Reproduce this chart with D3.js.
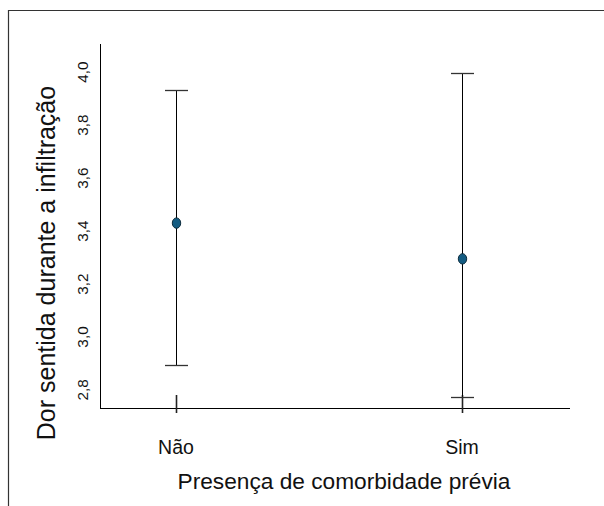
<!DOCTYPE html>
<html>
<head>
<meta charset="utf-8">
<script src="https://cdn.jsdelivr.net/npm/d3@7"></script>
<style>
  body { margin: 0; background: #fff; }
  text { font-family: "Liberation Sans", Arial, sans-serif; fill: #111; }
</style>
</head>
<body>
<svg id="chart" width="604" height="506"></svg>
<script>
// data
var categories = ["Não", "Sim"];
var means = [3.43, 3.295];
var lower = [2.894, 2.774];
var upper = [3.932, 3.996];
var yTicks = [2.8, 3.0, 3.2, 3.4, 3.6, 3.8, 4.0];

var svg = d3.select("#chart");

// outer frame (only top and left visible)
svg.append("path")
    .attr("d", "M8.5,506 L8.5,10.5 L604,10.5")
    .attr("fill", "none")
    .attr("stroke", "#333")
    .attr("stroke-width", 1.2);

var plotLeft = 100, plotRight = 570, plotTop = 44, plotBottom = 408;

var y = d3.scaleLinear()
    .domain([2.732, 4.106])
    .range([plotBottom, plotTop]);

var x = d3.scalePoint()
    .domain(categories)
    .range([176, 462]);

// axes lines
svg.append("line")
    .attr("x1", plotLeft + 0.5).attr("x2", plotLeft + 0.5)
    .attr("y1", plotTop).attr("y2", plotBottom)
    .attr("stroke", "#000");
svg.append("line")
    .attr("x1", plotLeft).attr("x2", plotRight)
    .attr("y1", plotBottom + 0.5).attr("y2", plotBottom + 0.5)
    .attr("stroke", "#000");

// y tick labels (rotated, no tick marks)
svg.selectAll(".ylab")
    .data(yTicks)
  .enter().append("text")
    .attr("class", "ylab")
    .attr("transform", function(d) { return "translate(88," + y(d) + ") rotate(-90)"; })
    .attr("text-anchor", "middle")
    .style("font-size", "15.3px")
    .text(function(d) { return d3.format(".1f")(d).replace(".", ","); });

// x ticks (short marks across the axis)
svg.selectAll(".xtick")
    .data(categories)
  .enter().append("line")
    .attr("class", "xtick")
    .attr("x1", function(d) { return x(d) + 0.5; })
    .attr("x2", function(d) { return x(d) + 0.5; })
    .attr("y1", 395).attr("y2", 413)
    .attr("stroke", "#222")
    .attr("stroke-width", 1.6);

// x labels
svg.selectAll(".xlab")
    .data(categories)
  .enter().append("text")
    .attr("class", "xlab")
    .attr("x", function(d) { return x(d); })
    .attr("y", 454)
    .attr("text-anchor", "middle")
    .style("font-size", "19.5px")
    .text(function(d) { return d; });

// error bars
var bars = svg.selectAll(".bar")
    .data(categories)
  .enter().append("g")
    .attr("class", "bar");

bars.append("line")
    .attr("x1", function(d) { return x(d) + 0.5; })
    .attr("x2", function(d) { return x(d) + 0.5; })
    .attr("y1", function(d, i) { return y(upper[i]); })
    .attr("y2", function(d, i) { return y(lower[i]); })
    .attr("stroke", "#000");

bars.append("line")
    .attr("x1", function(d) { return x(d) - 11; })
    .attr("x2", function(d) { return x(d) + 12; })
    .attr("y1", function(d, i) { return Math.round(y(upper[i])) + 0.5; })
    .attr("y2", function(d, i) { return Math.round(y(upper[i])) + 0.5; })
    .attr("stroke", "#333")
    .attr("stroke-width", 1.3);

bars.append("line")
    .attr("x1", function(d) { return x(d) - 11; })
    .attr("x2", function(d) { return x(d) + 12; })
    .attr("y1", function(d, i) { return Math.round(y(lower[i])) + 0.5; })
    .attr("y2", function(d, i) { return Math.round(y(lower[i])) + 0.5; })
    .attr("stroke", "#333")
    .attr("stroke-width", 1.3);

bars.append("ellipse")
    .attr("cx", function(d) { return x(d) + 0.5; })
    .attr("cy", function(d, i) { return y(means[i]); })
    .attr("rx", 4.2)
    .attr("ry", 5.2)
    .attr("fill", "#145c82")
    .attr("stroke", "#0b2c3e")
    .attr("stroke-width", 1);

// axis titles
svg.append("text")
    .attr("transform", "translate(55,263) rotate(-90)")
    .attr("text-anchor", "middle")
    .style("font-size", "25px")
    .text("Dor sentida durante a infiltração");

svg.append("text")
    .attr("x", 344)
    .attr("y", 489)
    .attr("text-anchor", "middle")
    .style("font-size", "22.7px")
    .text("Presença de comorbidade prévia");
</script>
</body>
</html>
